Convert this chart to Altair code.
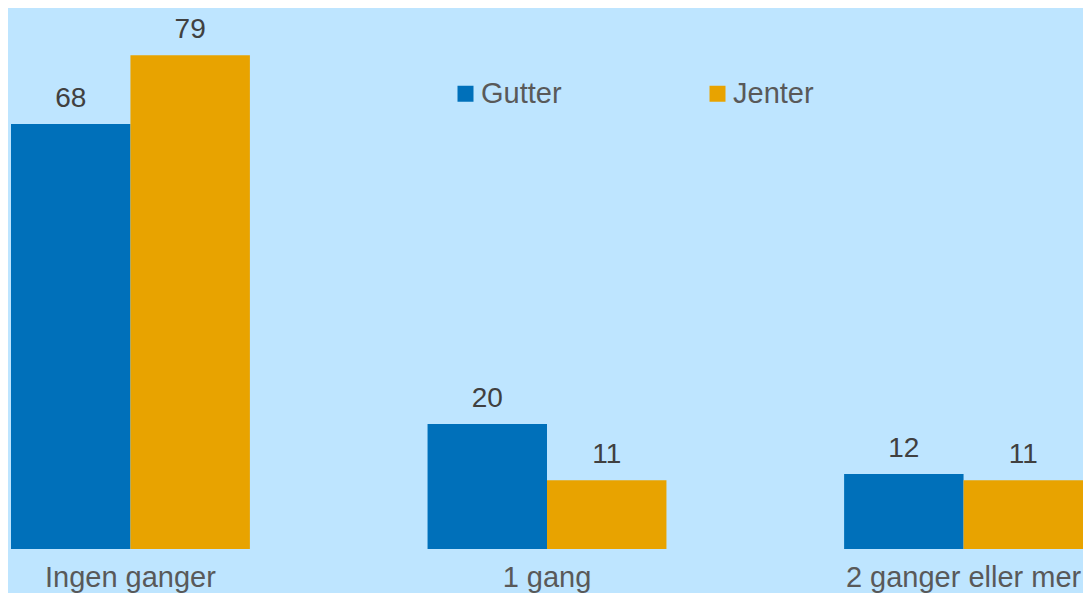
import altair as alt
import pandas as pd

categories = ["Ingen ganger", "1 gang", "2 ganger eller mer"]
series = ["Gutter", "Jenter"]
gutter = [68, 20, 12]
jenter = [79, 11, 11]
colors = ["#0070BA", "#E8A300"]

rows = []
for i, c in enumerate(categories):
    rows.append({"kategori": c, "kjonn": series[0], "verdi": gutter[i]})
    rows.append({"kategori": c, "kjonn": series[1], "verdi": jenter[i]})
df = pd.DataFrame(rows)

FONT = "Liberation Sans"
BG = "#BEE5FF"

x = alt.X("kategori:N", sort=categories, title=None,
          scale=alt.Scale(paddingInner=0.4265, paddingOuter=0),
          axis=alt.Axis(labelAngle=0, ticks=False, domain=False, grid=False,
                        labelFontSize=29, labelColor="#595959", labelFont=FONT,
                        labelPadding=14, labelLimit=0, labelOverlap=False))
xo = alt.XOffset("kjonn:N", sort=series, scale=alt.Scale(paddingInner=0, paddingOuter=0))
y = alt.Y("verdi:Q", title=None, scale=alt.Scale(domain=[0, 80], nice=False),
          axis=None)

bars = alt.Chart(df).mark_bar(clip=False).encode(
    x=x, xOffset=xo, y=y,
    color=alt.Color("kjonn:N", sort=series, title=None,
                    scale=alt.Scale(domain=series, range=colors),
                    legend=alt.Legend(orient="none", legendX=440, legendY=30,
                                      direction="horizontal", columns=2,
                                      symbolType="square", symbolSize=256,
                                      symbolStrokeWidth=0,
                                      labelFontSize=29, labelFont=FONT,
                                      labelColor="#595959", labelOffset=1,
                                      columnPadding=141, padding=0)),
)

labels = alt.Chart(df).mark_text(
    baseline="alphabetic", dy=-17, fontSize=28, font=FONT, color="#404040", clip=False
).encode(x=x, xOffset=xo, y=y, text=alt.Text("verdi:Q"))

chart = (bars + labels).properties(
    width=1072, height=500,
    autosize=alt.AutoSizeParams(type="none"),
    padding={"left": 3, "top": 41, "right": 0, "bottom": 44},
    background=BG,
).configure_view(stroke=None, fill=BG)

chart.save("out.html", embed_options={"renderer": "svg", "actions": False})
